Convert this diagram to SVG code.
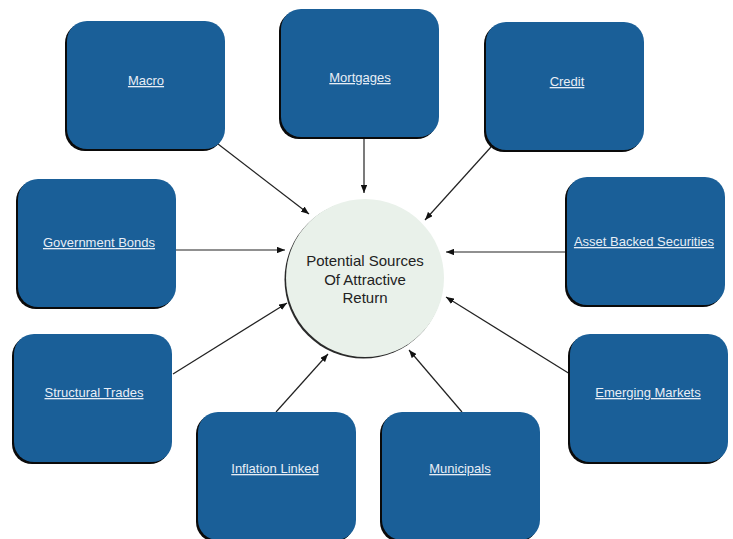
<svg xmlns="http://www.w3.org/2000/svg" width="733" height="539" viewBox="0 0 733 539">
  <defs>
    <style>
      .shadow { fill: #0a0a0a; }
      .box { fill: #1a5f98; }
      .label { font-family: "Liberation Sans", Arial, sans-serif; font-size: 13px; fill: #e8eef6; text-anchor: middle; text-decoration: underline; }
      .hub-text { font-family: "Liberation Sans", Arial, sans-serif; font-size: 15px; fill: #222; text-anchor: middle; }
      .link { stroke: #222; stroke-width: 1.2; fill: none; marker-end: url(#arrow); }
    </style>
    <marker id="arrow" viewBox="0 0 10 8" refX="10" refY="4" markerWidth="8" markerHeight="6.4" markerUnits="userSpaceOnUse" orient="auto">
      <path d="M0,0 L10,4 L0,8 z" fill="#111"/>
    </marker>
    <!-- rounded card with a hard drop shadow to the lower left -->
    <g id="card">
      <rect class="shadow" x="-2" y="2" width="158" height="128" rx="20"/>
      <rect class="box" x="0" y="0" width="158" height="128" rx="20"/>
    </g>
  </defs>

  <rect width="733" height="539" fill="#ffffff"/>

  <!-- connectors into the hub -->
  <g id="connectors">
    <line class="link" x1="218" y1="144" x2="309" y2="214"/>
    <line class="link" x1="364" y1="137" x2="364" y2="193"/>
    <line class="link" x1="491" y1="147" x2="425" y2="220"/>
    <line class="link" x1="176" y1="250" x2="285" y2="250"/>
    <line class="link" x1="567" y1="252" x2="446" y2="252"/>
    <line class="link" x1="173" y1="374" x2="287" y2="303"/>
    <line class="link" x1="570" y1="374" x2="446" y2="297"/>
    <line class="link" x1="276" y1="412" x2="328" y2="354"/>
    <line class="link" x1="462" y1="412" x2="409" y2="350"/>
  </g>

  <g id="hub">
    <circle cx="363.5" cy="279.5" r="79" fill="#2a2a2a"/>
    <circle cx="365" cy="278" r="79" fill="#e9f1ea"/>
    <text class="hub-text" x="365" y="266">Potential Sources</text>
    <text class="hub-text" x="365" y="285">Of Attractive</text>
    <text class="hub-text" x="365" y="303">Return</text>
  </g>

  <g id="macro">
    <use href="#card" x="67" y="21"/>
    <text class="label" x="146" y="85">Macro</text>
  </g>
  <g id="mortgages">
    <use href="#card" x="281" y="9"/>
    <text class="label" x="360" y="82">Mortgages</text>
  </g>
  <g id="credit">
    <use href="#card" x="486" y="22"/>
    <text class="label" x="567" y="86">Credit</text>
  </g>
  <g id="government-bonds">
    <use href="#card" x="18" y="179"/>
    <text class="label" x="99" y="247">Government Bonds</text>
  </g>
  <g id="asset-backed-securities">
    <use href="#card" x="567" y="177"/>
    <text class="label" x="644" y="246">Asset Backed Securities</text>
  </g>
  <g id="structural-trades">
    <use href="#card" x="14" y="334"/>
    <text class="label" x="94" y="397">Structural Trades</text>
  </g>
  <g id="emerging-markets">
    <use href="#card" x="570" y="334"/>
    <text class="label" x="648" y="397">Emerging Markets</text>
  </g>
  <g id="inflation-linked">
    <use href="#card" x="198" y="412"/>
    <text class="label" x="275" y="473">Inflation Linked</text>
  </g>
  <g id="municipals">
    <use href="#card" x="382" y="412"/>
    <text class="label" x="460" y="473">Municipals</text>
  </g>
</svg>
